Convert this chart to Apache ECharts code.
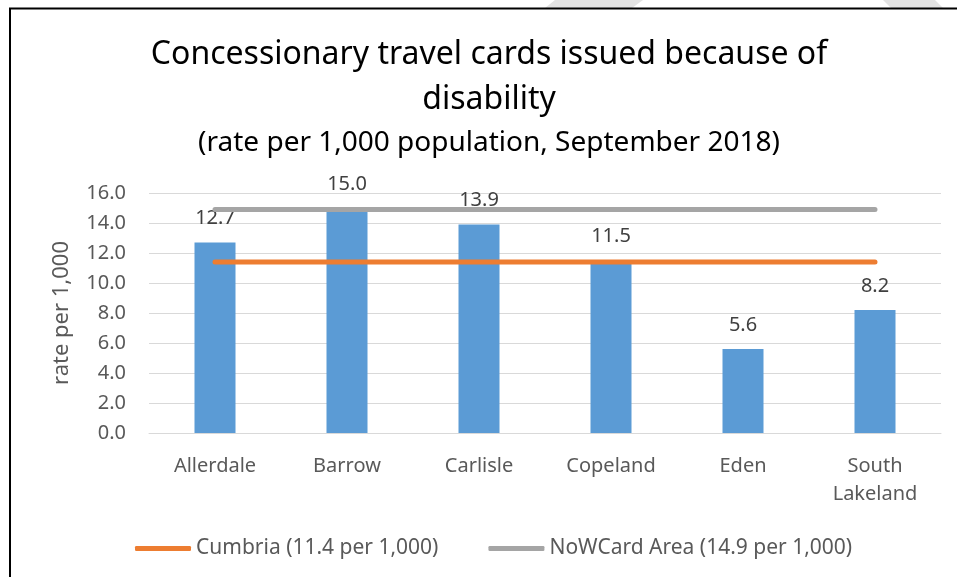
<!DOCTYPE html>
<html>
<head>
<meta charset="utf-8">
<script src="https://cdn.jsdelivr.net/npm/echarts@6/dist/echarts.min.js"></script>
<style>
html,body{margin:0;padding:0;background:#fff;}
#chart{width:957px;height:577px;}
</style>
</head>
<body>
<div id="chart"></div>
<script>
const categories = ['Allerdale', 'Barrow', 'Carlisle', 'Copeland', 'Eden', 'South\nLakeland'];
const rates = [12.7, 15.0, 13.9, 11.5, 5.6, 8.2];
const cumbriaName = 'Cumbria (11.4 per 1,000)';
const cumbriaRate = [11.4, 11.4, 11.4, 11.4, 11.4, 11.4];
const nowcardName = 'NoWCard Area (14.9 per 1,000)';
const nowcardRate = [14.9, 14.9, 14.9, 14.9, 14.9, 14.9];
const yTicks = {min: 0, max: 16, interval: 2};

const FONT = 'Noto Sans';
const chart = echarts.init(document.getElementById('chart'), null, {renderer: 'canvas'});
chart.setOption({
  backgroundColor: '#fff',
  animation: false,
  graphic: [
    {type: 'polygon', silent: true, z: -1, shape: {points: [[555, 0], [643, 0], [632, 8], [545, 8]]}, style: {fill: '#e3e3e3'}},
    {type: 'polygon', silent: true, z: -1, shape: {points: [[883, 0], [935, 0], [943, 8], [891, 8]]}, style: {fill: '#e3e3e3'}},
    {type: 'rect', silent: true, z: 100, shape: {x: 10, y: 8.5, width: 1000, height: 1000}, style: {fill: 'none', stroke: '#000', lineWidth: 2}}
  ],
  title: [
    {text: 'Concessionary travel cards issued because of\ndisability', left: 489, textAlign: 'center', top: 32, padding: 0,
     textStyle: {fontFamily: FONT, fontSize: 32, fontWeight: 'normal', color: '#000', lineHeight: 45}},
    {text: '(rate per 1,000 population, September 2018)', left: 489, textAlign: 'center', top: 126, padding: 0,
     textStyle: {fontFamily: FONT, fontSize: 28, fontWeight: 'normal', color: '#000', lineHeight: 34}}
  ],
  legend: {
    data: [cumbriaName, nowcardName],
    bottom: 18, left: 135, padding: 0,
    icon: 'roundRect', itemWidth: 56, itemHeight: 5, itemGap: 50,
    textStyle: {fontFamily: FONT, fontSize: 21, color: '#595959'}
  },
  grid: {left: 149, right: 16, top: 193, bottom: 144, containLabel: false},
  xAxis: {
    type: 'category', data: categories,
    axisLine: {lineStyle: {color: '#d9d9d9', width: 1}},
    axisTick: {show: false},
    axisLabel: {fontFamily: FONT, fontSize: 20, color: '#595959', margin: 19, lineHeight: 28, interval: 0}
  },
  yAxis: {
    type: 'value', min: yTicks.min, max: yTicks.max, interval: yTicks.interval,
    name: 'rate per 1,000', nameLocation: 'middle', nameRotate: 90, nameGap: 76,
    nameTextStyle: {fontFamily: FONT, fontSize: 22, color: '#595959'},
    axisLine: {show: false}, axisTick: {show: false},
    axisLabel: {fontFamily: FONT, fontSize: 20, color: '#595959', margin: 23, formatter: v => v.toFixed(1)},
    splitLine: {lineStyle: {color: '#d9d9d9', width: 1}}
  },
  series: [
    {type: 'bar', data: rates, barWidth: 41, itemStyle: {color: '#5b9bd5'},
     label: {show: true, position: 'top', distance: 14, fontFamily: FONT, fontSize: 20, color: '#404040', formatter: p => p.value.toFixed(1)}},
    {type: 'line', name: nowcardName, data: nowcardRate, symbol: 'none', z: 3,
     lineStyle: {color: '#a5a5a5', width: 5, cap: 'round'}, itemStyle: {color: '#a5a5a5'}},
    {type: 'line', name: cumbriaName, data: cumbriaRate, symbol: 'none', z: 3,
     lineStyle: {color: '#ed7d31', width: 5, cap: 'round'}, itemStyle: {color: '#ed7d31'}}
  ]
});
</script>
</body>
</html>
